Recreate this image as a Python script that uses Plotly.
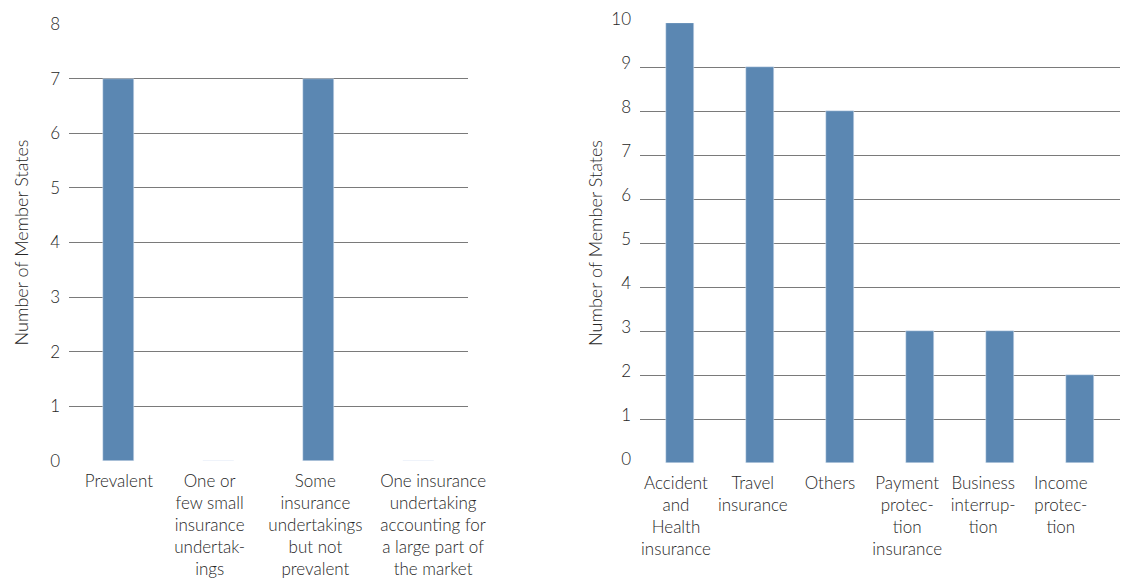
import plotly.graph_objects as go

left_categories = [
    "Prevalent",
    "One or<br>few small<br>insurance<br>undertak-<br>ings",
    "Some<br>insurance<br>undertakings<br>but not<br>prevalent",
    "One insurance<br>undertaking<br>accounting for<br>a large part of<br>the market",
]
left_values = [7, 0, 7, 0]

right_categories = [
    "Accident<br>and<br>Health<br>insurance",
    "Travel<br>insurance",
    "Others",
    "Payment<br>protec-<br>tion<br>insurance",
    "Business<br>interrup-<br>tion",
    "Income<br>protec-<br>tion",
]
right_values = [10, 9, 8, 3, 3, 2]

y_title = "Number of Member States"
bar_color = "#5b87b2"
grid_color = "#7a7a7a"
text_color = "#262626"
FONT = "Lato"

W, H = 1124, 581

# label anchor nudges (category units), mimicking the reference's text wrapping boxes
left_label_nudge = [0.0, -0.09, -0.03, 0.15]
right_label_nudge = [-0.05, -0.09, -0.125, -0.16, -0.21, -0.24]

fig = go.Figure()
fig.add_trace(go.Bar(x=list(range(len(left_categories))), y=left_values,
                     marker_color=bar_color, width=0.31, xaxis="x", yaxis="y",
                     showlegend=False))
fig.add_trace(go.Bar(x=list(range(len(right_categories))), y=right_values,
                     marker_color=bar_color, width=0.34, xaxis="x2", yaxis="y2",
                     showlegend=False))

xtickfont = dict(family=FONT, size=17, color=text_color, weight=300)
ytickfont = dict(family=FONT, size=17, color=text_color, weight=300)
titlefont = dict(family=FONT, size=18, color=text_color, weight=300)

fig.update_layout(
    width=W, height=H,
    margin=dict(l=0, r=0, t=0, b=0),
    paper_bgcolor="white", plot_bgcolor="white",
    bargap=0,
    xaxis=dict(domain=[69 / W, 468 / W], range=[-0.5, 3.5],
               tickvals=[i + d for i, d in enumerate(left_label_nudge)],
               ticktext=left_categories,
               showgrid=False, zeroline=False, showline=False, ticks="",
               tickfont=xtickfont, tickangle=0, anchor="y", automargin=False,
               ticklabelstandoff=8),
    yaxis=dict(domain=[(H - 461) / H, (H - 24) / H], range=[0, 8], dtick=1,
               showgrid=True, gridcolor=grid_color, gridwidth=1, zeroline=False,
               showline=False, ticks="", tickfont=ytickfont, ticklabelstandoff=8,
               title=dict(text=y_title, font=titlefont, standoff=16), anchor="x",
               automargin=False),
    xaxis2=dict(domain=[640 / W, 1120 / W], range=[-0.5, 5.5],
                tickvals=[i + d for i, d in enumerate(right_label_nudge)],
                ticktext=right_categories,
                showgrid=False, zeroline=False, showline=False, ticks="",
                tickfont=xtickfont, tickangle=0, anchor="y2", automargin=False,
                ticklabelstandoff=8),
    yaxis2=dict(domain=[(H - 463) / H, (H - 23) / H], range=[0, 10], dtick=1,
                showgrid=True, gridcolor=grid_color, gridwidth=1, zeroline=False,
                showline=False, ticks="", tickfont=ytickfont, ticklabelstandoff=8,
                ticklabelshift=-4,
                title=dict(text=y_title, font=titlefont, standoff=3), anchor="x2",
                automargin=False),
)

fig.write_html("out.html")
